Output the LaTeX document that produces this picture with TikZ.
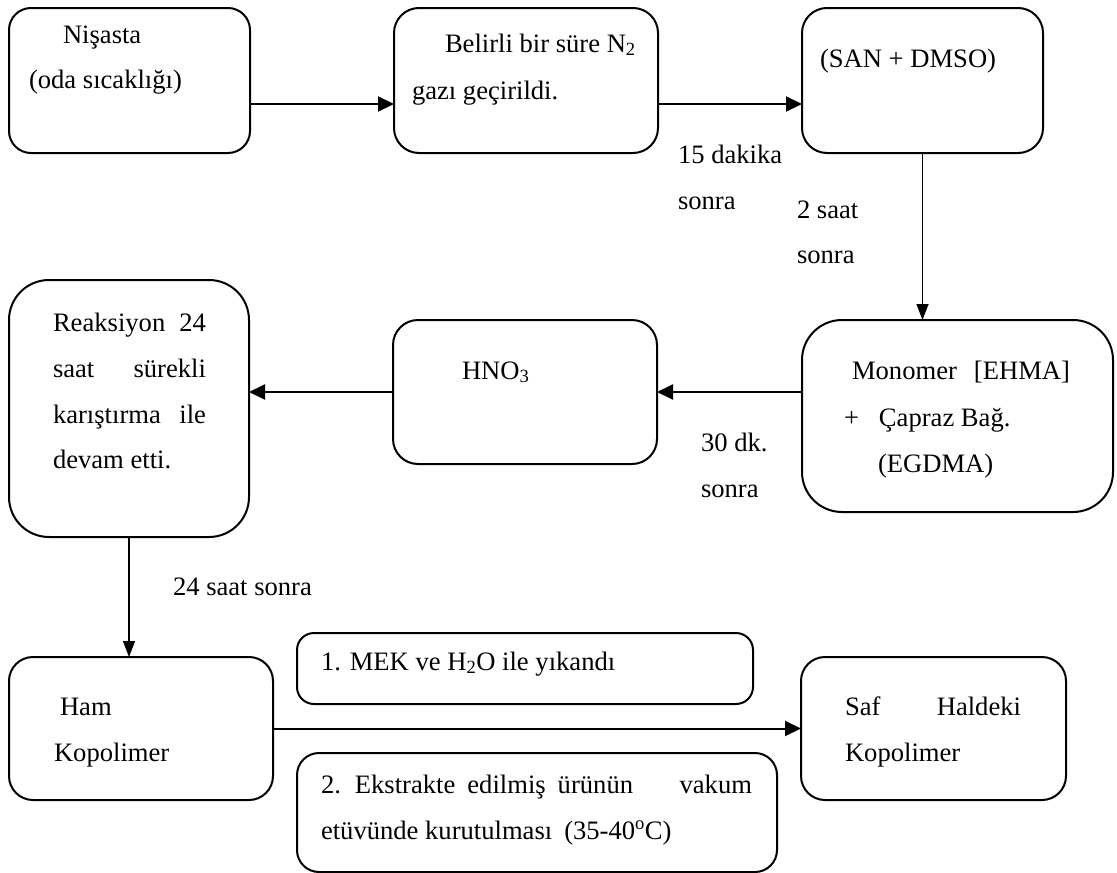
\documentclass[tikz,border=0pt]{standalone}
\usepackage{fontspec}
\setmainfont{Liberation Serif}
\usetikzlibrary{arrows.meta}
\tikzset{
  box/.style={draw, line width=2pt, rectangle, inner sep=0pt, outer sep=0pt},
  lbl/.style={anchor=base west, inner sep=0pt, outer sep=0pt, font=\fontsize{26.6}{46}\selectfont},
  harr/.style={line width=2pt, -{Triangle[length=16pt,width=15pt]}},
  varr/.style={line width=1.4pt, -{Triangle[length=16pt,width=12pt]}}
}
\begin{document}
\begin{tikzpicture}[x=1pt,y=-1pt]
\useasboundingbox (0,0) rectangle (1117,873);
% boxes
\node[box, minimum width=241pt, minimum height=145pt, rounded corners=22pt] (n1) at (129.5,80.5) {};
\node[box, minimum width=264pt, minimum height=145pt, rounded corners=25pt] (n2) at (526,80.5) {};
\node[box, minimum width=241pt, minimum height=145pt, rounded corners=25pt] (san) at (922.5,80.5) {};
\node[box, minimum width=311pt, minimum height=192pt, rounded corners=40pt] (mono) at (957.5,416) {};
\node[box, minimum width=264pt, minimum height=144pt, rounded corners=25pt] (hno) at (525,392) {};
\node[box, minimum width=240pt, minimum height=257pt, rounded corners=40pt] (reak) at (129,408.5) {};
\node[box, minimum width=264pt, minimum height=143pt, rounded corners=24pt] (ham) at (141,728.5) {};
\node[box, minimum width=456pt, minimum height=71pt, rounded corners=17pt] (mek) at (525,668.5) {};
\node[box, minimum width=480pt, minimum height=119pt, rounded corners=22pt] (ext) at (537,812.5) {};
\node[box, minimum width=265pt, minimum height=143pt, rounded corners=24pt] (saf) at (933.5,728.5) {};
% texts
\node[lbl] (t1a) at (63,43) {Nişasta};
\node[lbl] (t1b) at (29,88) {(oda sıcaklığı)};
\node[lbl] (t2a) at (445,52) {Belirli bir süre N\textsubscript{2}};
\node[lbl] (t2b) at (412,99) {gazı geçirildi.};
\node[lbl] (t3) at (820,67) {(SAN + DMSO)};
\node[lbl] (l1a) at (678,163) {15 dakika};
\node[lbl] (l1b) at (678,209) {sonra};
\node[lbl] (l2a) at (797,218) {2 saat};
\node[lbl] (l2b) at (797,263) {sonra};
\node[lbl] (t4a) at (852,379) {\makebox[218pt][l]{Monomer\hfill[EHMA]}};
\node[lbl] (t4b) at (844,426) {+\hspace{20pt}Çapraz Bağ.};
\node[lbl] (t4c) at (878,472) {(EGDMA)};
\node[lbl] (t5) at (462,379) {HNO\textsubscript{3}};
\node[lbl] (l3a) at (701,451) {30 dk.};
\node[lbl] (l3b) at (701,497) {sonra};
\node[lbl] (t6a) at (53,331) {\makebox[153pt][l]{Reaksiyon\hfill 24}};
\node[lbl] (t6b) at (53,377) {\makebox[153pt][l]{saat\hfill sürekli}};
\node[lbl] (t6c) at (53,423) {\makebox[153pt][l]{karıştırma\hfill ile}};
\node[lbl] (t6d) at (53,468) {devam etti.};
\node[lbl] (l4) at (173,595) {24 saat sonra};
\node[lbl] (t7a) at (60,715) {Ham};
\node[lbl] (t7b) at (54,761) {Kopolimer};
\node[lbl] (t8) at (321,670) {1. MEK ve H\textsubscript{2}O ile yıkandı};
\node[lbl] (t9a) at (321,793) {\makebox[431pt][l]{2.\hspace{14pt}Ekstrakte\hspace{12pt}edilmiş\hspace{12pt}ürünün\hfill vakum}};
\node[lbl] (t9b) at (321,839) {etüvünde kurutulması\hspace{12pt}(35-40\textsuperscript{o}C)};
\node[lbl] (t10a) at (845,715) {\makebox[176pt][l]{Saf\hfill Haldeki}};
\node[lbl] (t10b) at (845,761) {Kopolimer};
% connectors
\draw[harr] ([yshift=-23.5pt]n1.east) -- ([yshift=-23.5pt]n2.west);
\draw[harr] ([yshift=-23.5pt]n2.east) -- ([yshift=-23.5pt]san.west);
\draw[varr] (san.south) -- (san.south |- mono.north);
\draw[harr] (hno.east -| mono.west) -- (hno.east);
\draw[harr] (hno.west) -- (hno.west -| reak.east);
\draw[varr] (reak.south) -- (reak.south |- ham.north);
\draw[harr] (ham.east) -- (saf.west);
\end{tikzpicture}
\end{document}
